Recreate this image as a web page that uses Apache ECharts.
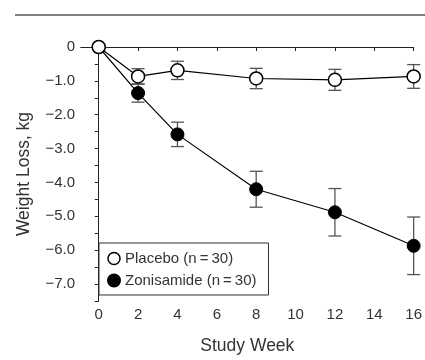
<!DOCTYPE html>
<html>
<head>
    <meta charset="utf-8">
    <title>Weight loss</title>
    <script src="https://cdn.jsdelivr.net/npm/echarts@6/dist/echarts.min.js"></script>
</head>
<body style="margin:0">
    <div id="main" style="width:425px;height:360px;"></div>
    <script type="text/javascript">

    var weeks = [0, 2, 4, 8, 12, 16];
    var placeboMean = [0, -0.87, -0.69, -0.93, -0.97, -0.87];
    var placeboErr  = [0, 0.23, 0.27, 0.30, 0.31, 0.35];
    var zoniMean    = [0, -1.36, -2.58, -4.20, -4.88, -5.87];
    var zoniErr     = [0, 0.27, 0.36, 0.53, 0.70, 0.85];
    var xTicks = [0, 2, 4, 6, 8, 10, 12, 14, 16];
    var xTopTicks = [2, 4, 6, 8, 10, 12, 14, 16];
    var yLabels = [0, -1, -2, -3, -4, -5, -6, -7];
    var names = ['Placebo (n\u2009=\u200930)', 'Zonisamide (n\u2009=\u200930)'];

    var font = 'Liberation Sans, Arial, sans-serif';
    var txt = '#333';

    function pairs(m) {
        var out = [];
        for (var i = 0; i < weeks.length; i++) out.push([weeks[i], m[i]]);
        return out;
    }
    function bars(m, e) {
        var out = [];
        for (var i = 0; i < weeks.length; i++) {
            if (e[i] > 0) out.push([weeks[i], m[i] - e[i], m[i] + e[i]]);
        }
        return out;
    }
    function errItem(params, api) {
        var x = api.value(0);
        var lo = api.coord([x, api.value(1)]);
        var hi = api.coord([x, api.value(2)]);
        var w = 6.5;
        var st = { stroke: '#555', lineWidth: 1.3 };
        return {
            type: 'group',
            children: [
                { type: 'line', shape: { x1: lo[0], y1: lo[1], x2: hi[0], y2: hi[1] }, style: st },
                { type: 'line', shape: { x1: lo[0] - w, y1: lo[1], x2: lo[0] + w, y2: lo[1] }, style: st },
                { type: 'line', shape: { x1: hi[0] - w, y1: hi[1], x2: hi[0] + w, y2: hi[1] }, style: st }
            ]
        };
    }

    var myChart = echarts.init(document.getElementById('main'));

    var option = {
        animation: false,
        textStyle: { fontFamily: font },
        grid: { left: 81, right: 9, top: 47, bottom: 49 },
        graphic: [{
            type: 'line',
            shape: { x1: 15, y1: 15, x2: 425, y2: 15 },
            style: { stroke: '#808080', lineWidth: 2 }
        }],
        legend: {
            orient: 'vertical',
            left: 99,
            top: 243,
            padding: [8, 12, 7, 8],
            itemGap: 7,
            itemWidth: 12,
            itemHeight: 12,
            borderColor: '#333',
            borderWidth: 1,
            backgroundColor: '#fff',
            textStyle: { fontSize: 15, color: txt, fontFamily: font },
            data: [
                { name: names[0], icon: 'circle', itemStyle: { color: '#fff', borderColor: '#000', borderWidth: 1.5 } },
                { name: names[1], icon: 'circle', itemStyle: { color: '#000' } }
            ]
        },
        xAxis: [
            {
                type: 'value',
                position: 'bottom',
                min: -0.9,
                max: 16,
                splitLine: { show: false },
                axisLine: { lineStyle: { color: '#222', width: 1 } },
                axisTick: { length: 4, customValues: xTicks, lineStyle: { color: '#222' } },
                axisLabel: { customValues: xTicks, fontSize: 15, color: txt, margin: 6 },
                name: 'Study Week',
                nameLocation: 'middle',
                nameGap: 36,
                nameTextStyle: { fontSize: 17.5, color: txt }
            },
            {
                type: 'value',
                position: 'top',
                min: -0.9,
                max: 16,
                splitLine: { show: false },
                axisLine: { lineStyle: { color: '#222', width: 1 } },
                axisTick: { inside: true, length: 4, customValues: xTopTicks, lineStyle: { color: '#222' } },
                axisLabel: { show: false }
            }
        ],
        yAxis: {
            type: 'value',
            min: -7.5,
            max: 0,
            interval: 0.5,
            splitLine: { show: false },
            axisLine: { show: true, lineStyle: { color: '#222', width: 1 } },
            axisTick: { show: true, length: 4, lineStyle: { color: '#222' } },
            axisLabel: {
                customValues: yLabels,
                fontSize: 15,
                color: txt,
                margin: 6,
                formatter: function (v) {
                    if (v === 0) return '0';
                    return '\u2212' + Math.abs(v).toFixed(1);
                }
            },
            name: 'Weight Loss, kg',
            nameLocation: 'middle',
            nameGap: 48,
            nameTextStyle: { fontSize: 17.5, color: txt }
        },
        series: [
            {
                type: 'custom',
                renderItem: errItem,
                encode: { x: 0, y: [1, 2] },
                data: bars(placeboMean, placeboErr),
                z: 1
            },
            {
                type: 'custom',
                renderItem: errItem,
                encode: { x: 0, y: [1, 2] },
                data: bars(zoniMean, zoniErr),
                z: 1
            },
            {
                name: names[1],
                type: 'line',
                data: pairs(zoniMean),
                symbol: 'circle',
                symbolSize: 13,
                lineStyle: { color: '#000', width: 1.2 },
                itemStyle: { color: '#000', borderColor: '#000', borderWidth: 1 },
                z: 3
            },
            {
                name: names[0],
                type: 'line',
                data: pairs(placeboMean),
                symbol: 'circle',
                symbolSize: 13,
                lineStyle: { color: '#000', width: 1.2 },
                itemStyle: { color: '#fff', borderColor: '#000', borderWidth: 1.5 },
                z: 4
            }
        ]
    };

    myChart.setOption(option);
    </script>
</body>
</html>
